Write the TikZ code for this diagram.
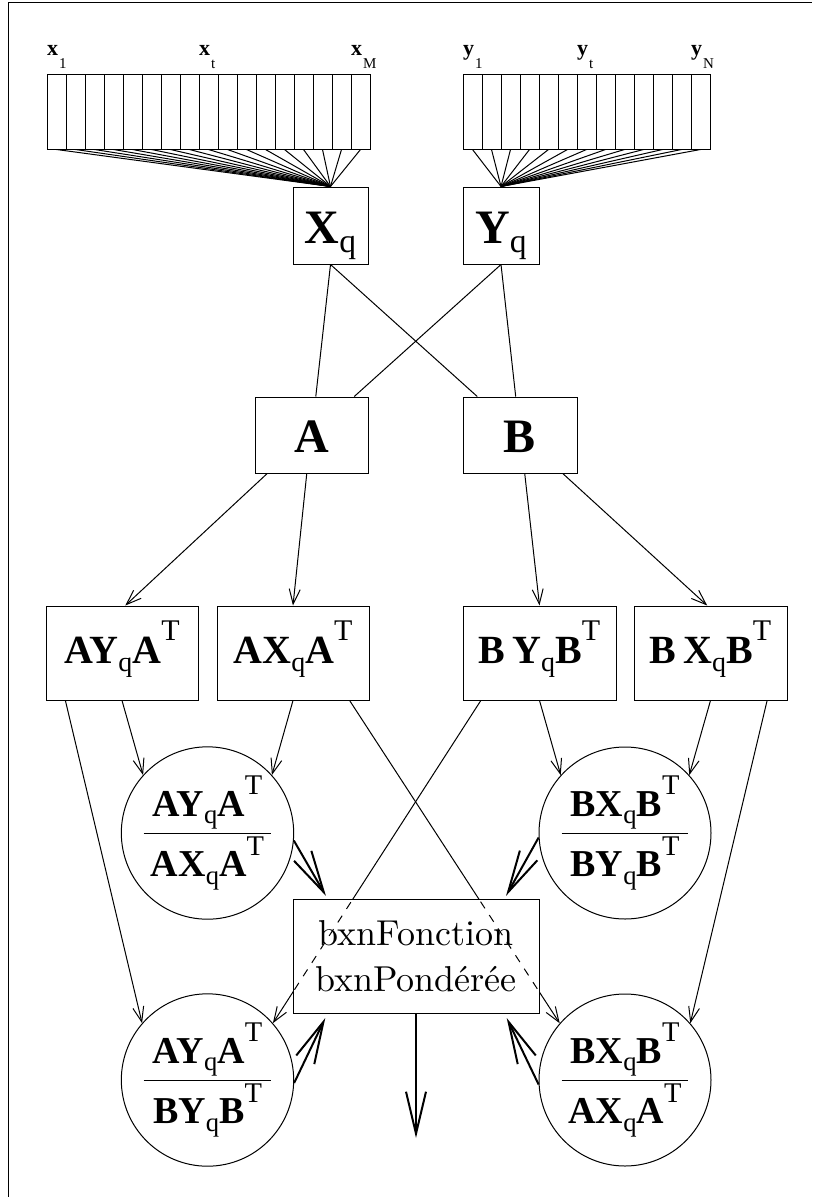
\documentclass[tikz,border=0pt]{standalone}
\usepackage{amsmath}
\usepackage{fontspec}
\newfontfamily\tms{Liberation Serif}
\newfontfamily\cmfont{lmroman10-regular.otf}
\usepackage{tikz}
\usetikzlibrary{positioning,calc,arrows.meta}

\newcommand{\lowq}{\raisebox{-0.2em}{\scalebox{0.7}{\mdseries q}}}
\newcommand{\upT}{\raisebox{0.56em}{\scalebox{0.75}{\mdseries T}}}
\newcommand{\prodm}[3]{#1#2\lowq#3\upT}
\newcommand{\vlab}[2]{\textbf{#1}\kern1pt\raisebox{-13pt}{\fontsize{15}{15}\selectfont #2}}
\newcommand{\matfrac}[2]{$\genfrac{}{}{1pt}{0}{\hbox{\kern9pt#1\kern9pt}}{\hbox{#2}}$}

\tikzset{
  cell/.style={draw, minimum width=19pt, minimum height=75pt, inner sep=0pt},
  lbl/.style={font=\tms\fontsize{22}{22}\selectfont, inner sep=0pt, anchor=base west},
  bigbox/.style={draw, inner sep=0pt, text height=40pt, text depth=5pt, font=\tms\bfseries\fontsize{48}{56}\selectfont},
  matbox/.style={draw, minimum width=152pt, minimum height=94pt, inner sep=0pt, text height=32pt, text depth=12pt, font=\tms\bfseries\fontsize{40}{48}\selectfont},
  fracnode/.style={draw, circle, minimum size=172pt, inner sep=0pt, font=\tms\bfseries\fontsize{38}{46}\selectfont},
  arr/.style={-{Straight Barb[length=15pt,width=11pt]}},
  bigarr/.style={line width=2pt, -{Straight Barb[length=42pt,width=20pt]}},
  hidden/.style={dash pattern=on 8pt off 8pt}
}

\begin{document}
\begin{tikzpicture}[x=1pt, y=-1pt, line width=1pt]
    \useasboundingbox (0,0) rectangle (812,1197);
    % Frame
    \draw (8,1197) -- (8,2) -- (812,2);

    % Sequences
    \foreach \i in {1,...,17} \node[cell] (x\i) at (37.5+19*\i, 111.5) {};
    \foreach \i in {1,...,13} \node[cell] (y\i) at (453.5+19*\i, 111.5) {};
    \node[lbl] (lx1) at ([yshift=18pt]x1.north west) {\vlab{x}{1}};
    \node[lbl] (lxt) at ([yshift=18pt]x9.north west) {\vlab{x}{t}};
    \node[lbl] (lxM) at ([yshift=18pt]x17.north west) {\vlab{x}{M}};
    \node[lbl] (ly1) at ([yshift=18pt]y1.north west) {\vlab{y}{1}};
    \node[lbl] (lyt) at ([yshift=18pt]y7.north west) {\vlab{y}{t}};
    \node[lbl] (lyN) at ([yshift=18pt]y13.north west) {\vlab{y}{N}};

    % Matrices
    \node[bigbox, minimum width=75pt, minimum height=77pt] (Xq) at (330.5,225.5) {X\lowq};
    \node[bigbox, minimum width=76pt, minimum height=77pt] (Yq) at (501,225.5) {Y\lowq};
    \foreach \i in {1,...,17} \draw (x\i.south) -- (Xq.north);
    \foreach \i in {1,...,13} \draw (y\i.south) -- (Yq.north);

    \node[bigbox, minimum width=113pt, minimum height=76pt] (A) at (311.5,435) {A};
    \node[bigbox, minimum width=114pt, minimum height=76pt] (B) at (520,435) {B};
    \draw (Xq.south) -- (A);
    \draw (Xq.south) -- (B);
    \draw (Yq.south) -- (A);
    \draw (Yq.south) -- (B);

    % Projections
    \node[matbox] (AYA) at (122,653) {\prodm{A}{Y}{A}};
    \node[matbox] (AXA) at (293,653) {\prodm{A}{X}{A}};
    \node[matbox, minimum width=153pt] (BYB) at (539.5,653) {\prodm{B\,}{Y}{B}};
    \node[matbox, minimum width=153pt] (BXB) at (710.5,653) {\prodm{B\,}{X}{B}};
    \draw[arr] (A.221) -- (AYA.86);
    \draw[arr] (A.263) -- (AXA.north);
    \draw[arr] (B.277) -- (BYB.north);
    \draw[arr] (B.318) -- (BXB.94);

    % Ratios
    \node[fracnode] (C1) at (207.5,833) {\matfrac{\prodm{A}{Y}{A}}{\prodm{A}{X}{A}}};
    \node[fracnode] (C2) at (625,833) {\matfrac{\prodm{B}{X}{B}}{\prodm{B}{Y}{B}}};
    \node[fracnode] (C3) at (207.5,1080) {\matfrac{\prodm{A}{Y}{A}}{\prodm{B}{Y}{B}}};
    \node[fracnode] (C4) at (625,1080) {\matfrac{\prodm{B}{X}{B}}{\prodm{A}{X}{A}}};
    \draw[arr] (AYA.south) -- (C1.138);
    \draw[arr] (AXA.south) -- (C1.42);
    \draw[arr] (BYB.south) -- (C2.138);
    \draw[arr] (BXB.south) -- (C2.42);
    \draw[arr] (AYA.220) -- (C3.139);
    \draw[arr] (BXB.320) -- (C4.41);
    \draw[arr] (AXA.320) -- (C4.139);
    \draw[arr] (BYB.219) -- (C3.41);

    % Weighting
    \node[draw, fill=white, minimum width=246pt, minimum height=114pt, align=center,
          font=\cmfont\fontsize{36}{46}\selectfont] (fp) at (416,956) {bxnFonction\\bxnPondérée};
    \begin{scope}
        \clip (fp.south west) rectangle (fp.north east);
        \draw[hidden] (AXA.320) -- (C4.139);
        \draw[hidden] (BYB.219) -- (C3.41);
    \end{scope}
    \draw[bigarr, shorten >=3pt] (C1.355) -- (fp.147);
    \draw[bigarr, shorten >=3pt] (C2.183) -- (fp.33);
    \draw[bigarr, shorten >=5pt] (C3.358) -- (fp.213);
    \draw[bigarr, shorten >=5pt] (C4.183) -- (fp.327);
    \coordinate (res) at (416,1138);
    \draw[bigarr] (fp.south) -- (res);
\end{tikzpicture}
\end{document}
